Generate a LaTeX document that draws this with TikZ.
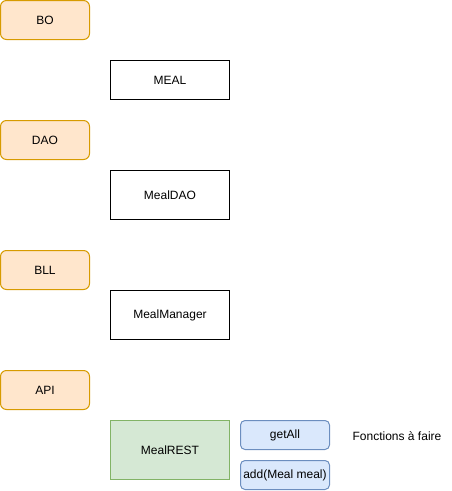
\documentclass[tikz,border=0pt]{standalone}
\usepackage{fontspec}
\setmainfont{Liberation Sans}
\definecolor{orfill}{HTML}{FFE6CC}
\definecolor{orline}{HTML}{D79B00}
\definecolor{grfill}{HTML}{D5E8D4}
\definecolor{grline}{HTML}{82B366}
\definecolor{blfill}{HTML}{DAE8FC}
\definecolor{blline}{HTML}{6C8EBF}
\begin{document}
\begin{tikzpicture}[x=1pt,y=-1pt,
  every node/.style={font=\fontsize{12}{14}\selectfont, inner sep=0pt, line width=1pt},
  layer/.style={draw=orline, fill=orfill, rounded corners=6pt, minimum width=89pt, minimum height=39pt},
  cls/.style={draw=black, fill=white, minimum width=119pt},
  rest/.style={draw=grline, fill=grfill, minimum width=119pt, minimum height=59pt},
  func/.style={draw=blline, fill=blfill, rounded corners=4.5pt, minimum width=89pt, minimum height=29pt}]
\useasboundingbox (0,0) rectangle (451,491);
\node[layer] (bo) at (45,20) {BO};
\node[cls, minimum height=39pt] (meal) at (170,80) {MEAL};
\node[layer] (dao) at (45,140) {DAO};
\node[cls, minimum height=49pt] (mealdao) at (170,195) {MealDAO};
\node[layer] (bll) at (45,270) {BLL};
\node[cls, minimum height=49pt] (mealmanager) at (170,315) {MealManager};
\node[layer] (api) at (45,390) {API};
\node[rest] (mealrest) at (170,450) {MealREST};
\node[func] (getall) at (285,435) {getAll};
\node[func] (add) at (285,475) {add(Meal meal)};
\node (todo) at (397,436) {Fonctions à faire};
\end{tikzpicture}
\end{document}
